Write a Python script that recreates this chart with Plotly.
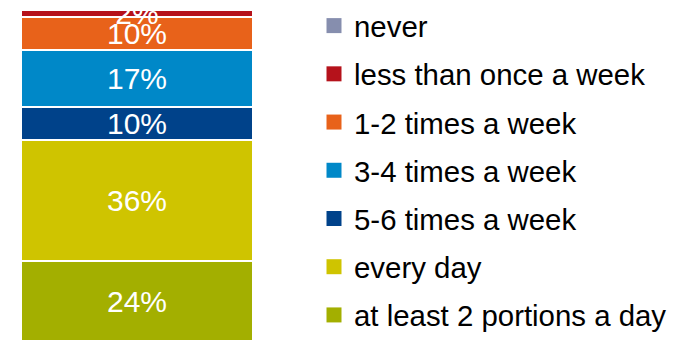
import plotly.graph_objects as go

# Data (bottom to top of the stacked bar)
categories = ["at least 2 portions a day", "every day", "5-6 times a week",
              "3-4 times a week", "1-2 times a week", "less than once a week", "never"]
values = [24, 36, 10, 17, 10, 2, 0]
labels = ["24%", "36%", "10%", "17%", "10%", "2%", ""]
colors = ["#A3AF00", "#CFC400", "#00428A", "#0088C8", "#E8621A", "#B5121B", "#868EAE"]

FONT = "Liberation Sans, Arial, sans-serif"

fig = go.Figure()
for cat, v, lab, c in zip(categories, values, labels, colors):
    fig.add_bar(
        x=[0], y=[v], name=cat, text=[lab],
        textposition="inside", insidetextanchor="middle", textangle=0,
        textfont=dict(color="white", size=30, family=FONT),
        marker=dict(color=c, line=dict(color="white", width=2)),
        showlegend=False, hoverinfo="skip",
    )

# legend entries (top to bottom: never ... at least 2 portions a day)
for cat, c in reversed(list(zip(categories, colors))):
    fig.add_scatter(
        x=[None], y=[None], mode="markers", name=cat, legendgroup=cat,
        marker=dict(symbol="square", size=15, color=c), hoverinfo="skip",
    )

fig.update_layout(
    width=679, height=341,
    margin=dict(l=0, r=0, t=0, b=0),
    paper_bgcolor="white", plot_bgcolor="white",
    barmode="stack", bargap=0,
    uniformtext=dict(minsize=30, mode="show"),
    xaxis=dict(domain=[21 / 679, 253 / 679], range=[-0.5, 0.5], visible=False, fixedrange=True),
    yaxis=dict(domain=[0, 1], range=[0, 102], visible=False, fixedrange=True),
    legend=dict(
        x=314 / 679, xanchor="left", y=1 - 3 / 341, yanchor="top",
        font=dict(size=29.4, family=FONT, color="black"),
        traceorder="grouped", tracegroupgap=7, itemwidth=30,
        bgcolor="rgba(0,0,0,0)",
    ),
    showlegend=True,
)

fig.write_html("out.html")
